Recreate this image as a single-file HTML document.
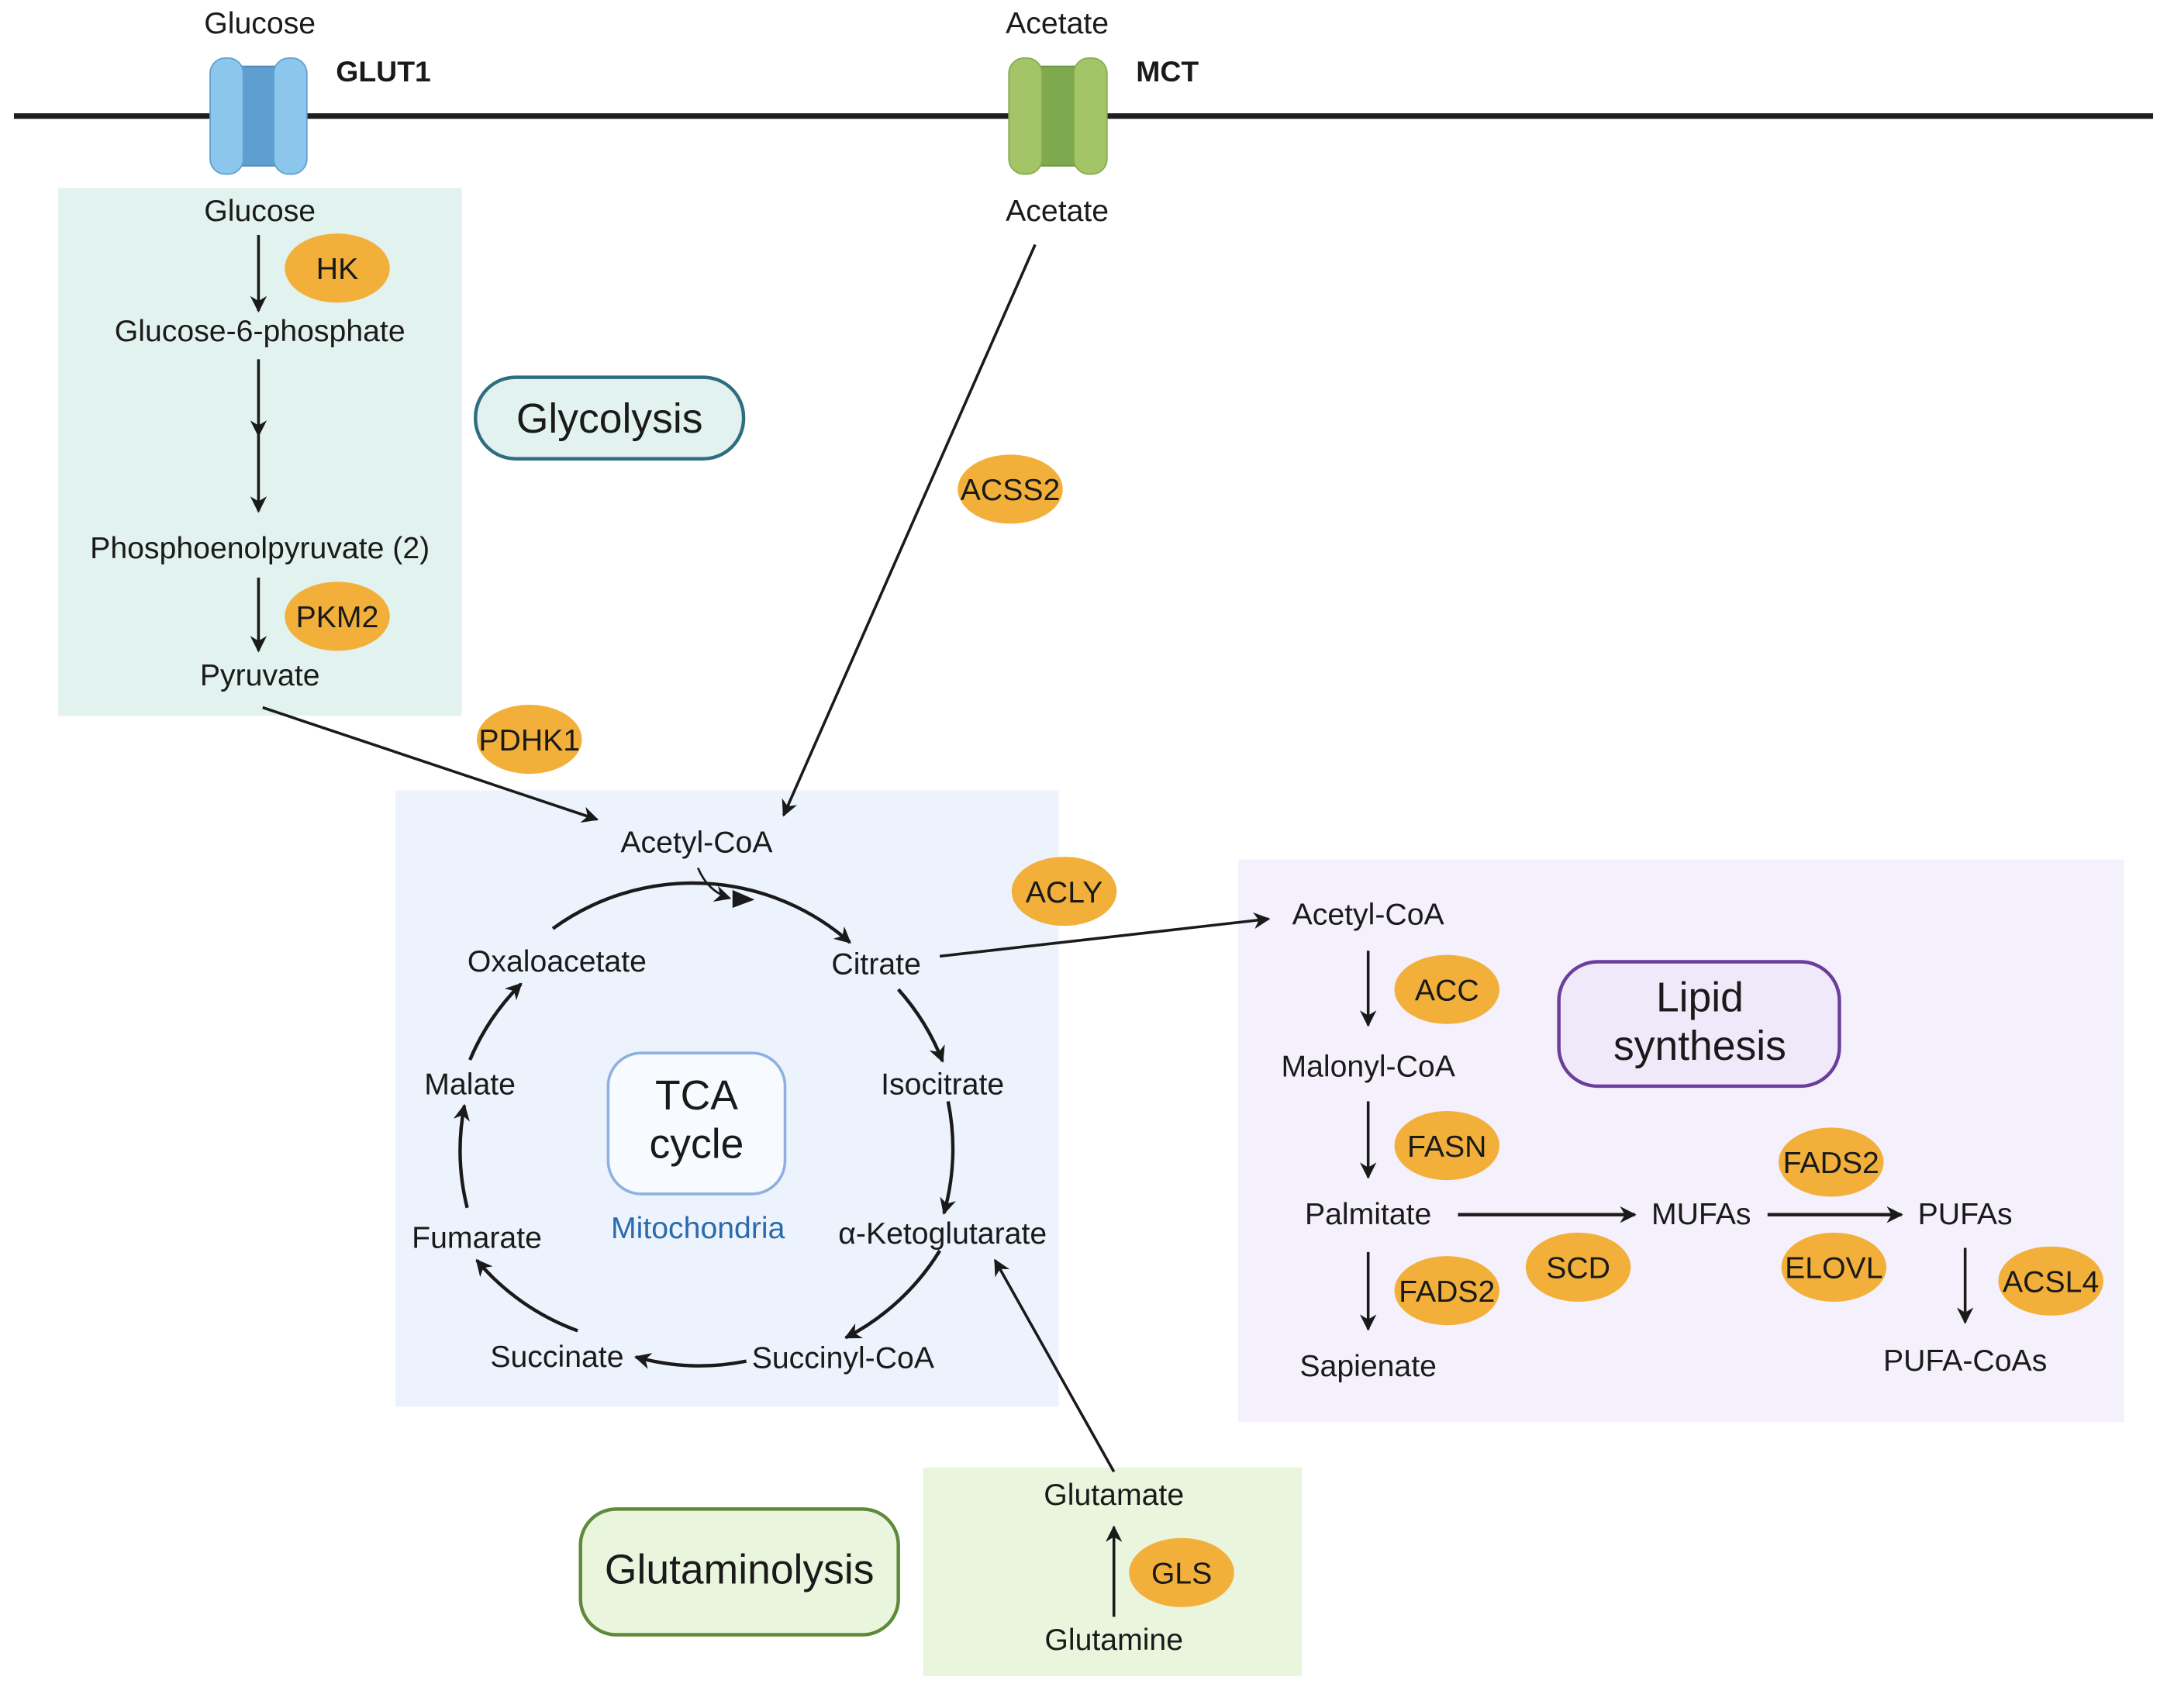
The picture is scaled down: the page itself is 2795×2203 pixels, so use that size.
<!DOCTYPE html>
<html><head><meta charset="utf-8"><style>
html,body{margin:0;padding:0;background:#fff;}
svg{display:block;}
text{font-family:"Liberation Sans",sans-serif;fill:#1a1a1a;}
</style></head><body>
<svg width="2795" height="2203" viewBox="0 0 1568 1236" xmlns="http://www.w3.org/2000/svg">
<defs>
<marker id="b" viewBox="0 0 10 10" refX="9" refY="5" markerWidth="12" markerHeight="12" orient="auto" markerUnits="userSpaceOnUse"><path d="M0,0 L10,5 L0,10 L3,5 z" fill="#1a1a1a"/></marker>
</defs>
<rect x="42" y="136" width="292" height="382" fill="#e2f2ee"/>
<rect x="286" y="572" width="480" height="446" fill="#ecf3fc"/>
<rect x="896" y="622" width="641" height="407" fill="#f4f0fc"/>
<rect x="668" y="1062" width="274" height="151" fill="#e9f5dd"/>

<line x1="10" y1="84" x2="1558" y2="84" stroke="#1e1e1e" stroke-width="4"/>
<g>
<rect x="163" y="48" width="48" height="72" fill="#5f9fcf" stroke="#4a8abc" stroke-width="1"/>
<rect x="152" y="42" width="24" height="84" rx="11" fill="#8cc6ec" stroke="#5fa0d0" stroke-width="1"/>
<rect x="198" y="42" width="24" height="84" rx="11" fill="#8cc6ec" stroke="#5fa0d0" stroke-width="1"/>
</g>
<g>
<rect x="742" y="48" width="48" height="72" fill="#7fa94f" stroke="#6a9540" stroke-width="1"/>
<rect x="730" y="42" width="24" height="84" rx="11" fill="#a3c567" stroke="#86ab4e" stroke-width="1"/>
<rect x="777" y="42" width="24" height="84" rx="11" fill="#a3c567" stroke="#86ab4e" stroke-width="1"/>
</g>
<g font-size="22" text-anchor="middle">
<text x="188" y="24">Glucose</text>
<text x="765" y="24">Acetate</text>
<text x="765" y="160">Acetate</text>
<text x="188" y="160">Glucose</text>
<text x="188" y="247">Glucose-6-phosphate</text>
<text x="188" y="404">Phosphoenolpyruvate (2)</text>
<text x="188" y="496">Pyruvate</text>
<text x="504" y="617">Acetyl-CoA</text>
<text x="403" y="703">Oxaloacetate</text>
<text x="634" y="705">Citrate</text>
<text x="682" y="792">Isocitrate</text>
<text x="340" y="792">Malate</text>
<text x="682" y="900">α-Ketoglutarate</text>
<text x="345" y="903">Fumarate</text>
<text x="403" y="989">Succinate</text>
<text x="610" y="990">Succinyl-CoA</text>
<text x="505" y="896" style="fill:#2a6aad">Mitochondria</text>
<text x="990" y="669">Acetyl-CoA</text>
<text x="990" y="779">Malonyl-CoA</text>
<text x="990" y="886">Palmitate</text>
<text x="1231" y="886">MUFAs</text>
<text x="1422" y="886">PUFAs</text>
<text x="990" y="996">Sapienate</text>
<text x="1422" y="992">PUFA-CoAs</text>
<text x="806" y="1089">Glutamate</text>
<text x="806" y="1194">Glutamine</text>
</g>
<g font-size="21" font-weight="bold">
<text x="243" y="59">GLUT1</text>
<text x="822" y="59">MCT</text>
</g>

<rect x="344" y="273" width="194" height="59" rx="29" fill="#e2f2ee" stroke="#2f6e80" stroke-width="2.5"/>
<text x="441" y="313" font-size="30" text-anchor="middle">Glycolysis</text>
<rect x="440" y="762" width="128" height="102" rx="24" fill="#f7faff" stroke="#8fb0e0" stroke-width="2"/>
<text x="504" y="803" font-size="30" text-anchor="middle">TCA</text>
<text x="504" y="838" font-size="30" text-anchor="middle">cycle</text>
<rect x="1128" y="696" width="203" height="90" rx="28" fill="#efe9fa" stroke="#6a3e9b" stroke-width="2.5"/>
<text x="1230" y="732" font-size="30" text-anchor="middle">Lipid</text>
<text x="1230" y="767" font-size="30" text-anchor="middle">synthesis</text>
<rect x="420" y="1092" width="230" height="91" rx="26" fill="#eaf5de" stroke="#5e8a3a" stroke-width="2.5"/>
<text x="535" y="1146" font-size="30" text-anchor="middle">Glutaminolysis</text>

<g stroke="#1a1a1a" stroke-width="2" fill="none" marker-end="url(#b)">
<line x1="187" y1="170" x2="187" y2="225"/>
<line x1="187" y1="260" x2="187" y2="315"/>
<line x1="187" y1="315" x2="187" y2="370"/>
<line x1="187" y1="418" x2="187" y2="471"/>
<line x1="190" y1="512" x2="432" y2="593"/>
<line x1="749" y1="177" x2="567" y2="590"/>
<line x1="680" y1="692" x2="918" y2="665"/>
<line x1="990" y1="688" x2="990" y2="742"/>
<line x1="990" y1="797" x2="990" y2="852"/>
<line x1="990" y1="906" x2="990" y2="962"/>
<line x1="1055" y1="879" x2="1183" y2="879" stroke-width="2.5"/>
<line x1="1279" y1="879" x2="1376" y2="879" stroke-width="2.5"/>
<line x1="1422" y1="903" x2="1422" y2="957"/>
<line x1="806" y1="1170" x2="806" y2="1105"/>
<line x1="806" y1="1065" x2="720" y2="912"/>
</g>
<g stroke="#1a1a1a" stroke-width="2.5" fill="none" marker-end="url(#b)">
<path d="M400,672 A172,172 0 0 1 615,682"/>
<path d="M650,716 A172,172 0 0 1 682,768"/>
<path d="M686,797 A172,172 0 0 1 683,878"/>
<path d="M680,905 A172,172 0 0 1 612,968"/>
<path d="M540,985 A172,172 0 0 1 460,982"/>
<path d="M418,963 A172,172 0 0 1 345,912"/>
<path d="M338,874 A172,172 0 0 1 336,800"/>
<path d="M340,767 A172,172 0 0 1 377,712"/>
<path d="M505,628 Q512,645 528,650" stroke-width="1.5"/>
</g>
<path d="M530,644 L546,651 L530,657 z" fill="#1a1a1a"/>

<g fill="#f2b03a">
<ellipse cx="244" cy="194" rx="38" ry="25"/>
<ellipse cx="244" cy="446" rx="38" ry="25"/>
<ellipse cx="731" cy="354" rx="38" ry="25"/>
<ellipse cx="383" cy="535" rx="38" ry="25"/>
<ellipse cx="770" cy="645" rx="38" ry="25"/>
<ellipse cx="1047" cy="716" rx="38" ry="25"/>
<ellipse cx="1047" cy="829" rx="38" ry="25"/>
<ellipse cx="1047" cy="934" rx="38" ry="25"/>
<ellipse cx="1142" cy="917" rx="38" ry="25"/>
<ellipse cx="1325" cy="841" rx="38" ry="25"/>
<ellipse cx="1327" cy="917" rx="38" ry="25"/>
<ellipse cx="1484" cy="927" rx="38" ry="25"/>
<ellipse cx="855" cy="1138" rx="38" ry="25"/>
</g>
<g font-size="22" text-anchor="middle">
<text x="244" y="202">HK</text>
<text x="244" y="454">PKM2</text>
<text x="731" y="362">ACSS2</text>
<text x="383" y="543">PDHK1</text>
<text x="770" y="653">ACLY</text>
<text x="1047" y="724">ACC</text>
<text x="1047" y="837">FASN</text>
<text x="1047" y="942">FADS2</text>
<text x="1142" y="925">SCD</text>
<text x="1325" y="849">FADS2</text>
<text x="1327" y="925">ELOVL</text>
<text x="1484" y="935">ACSL4</text>
<text x="855" y="1146">GLS</text>
</g>
</svg>
</body></html>
